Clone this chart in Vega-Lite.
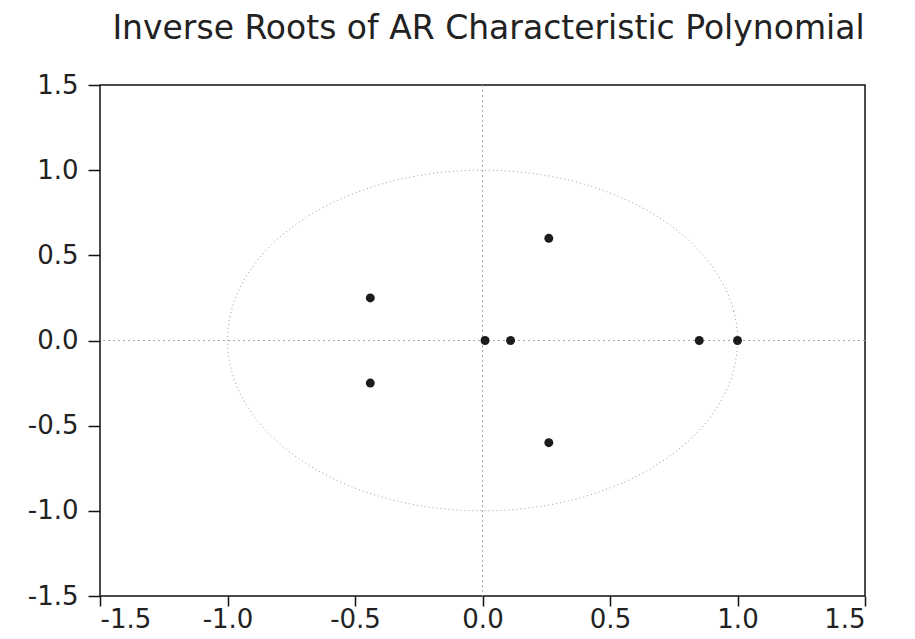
{
  "$schema": "https://vega.github.io/schema/vega-lite/v6.json",
  "autosize": "none",
  "width": 765,
  "height": 511,
  "padding": {"left": 100, "top": 85, "right": 50, "bottom": 43},
  "background": "white",
  "title": {
    "text": "Inverse Roots of AR Characteristic Polynomial",
    "anchor": "middle",
    "frame": "group",
    "font": "DejaVu Sans",
    "fontSize": 33,
    "fontWeight": "normal",
    "color": "#222222",
    "offset": 26,
    "dx": 6
  },
  "config": {
    "view": {"stroke": "#111111", "strokeWidth": 1.5},
    "axis": {
      "grid": false,
      "domain": false,
      "ticks": true,
      "tickColor": "#111111",
      "tickWidth": 1.5,
      "labelFont": "DejaVu Sans",
      "labelFontSize": 26,
      "labelColor": "#222222",
      "title": null
    }
  },
  "datasets": {
    "roots": [
      {"re": -0.44, "im": 0.25},
      {"re": -0.44, "im": -0.25},
      {"re": 0.01, "im": 0.0},
      {"re": 0.11, "im": 0.0},
      {"re": 0.26, "im": 0.60},
      {"re": 0.26, "im": -0.60},
      {"re": 0.85, "im": 0.0},
      {"re": 1.0, "im": 0.0}
    ],
    "circle": [
      {"deg": 0, "cx": 1.0, "cy": 0.0},
      {"deg": 10, "cx": 0.985, "cy": 0.174},
      {"deg": 20, "cx": 0.940, "cy": 0.342},
      {"deg": 30, "cx": 0.866, "cy": 0.5},
      {"deg": 40, "cx": 0.766, "cy": 0.643},
      {"deg": 50, "cx": 0.643, "cy": 0.766},
      {"deg": 60, "cx": 0.5, "cy": 0.866},
      {"deg": 70, "cx": 0.342, "cy": 0.940},
      {"deg": 80, "cx": 0.174, "cy": 0.985},
      {"deg": 90, "cx": 0.0, "cy": 1.0},
      {"deg": 100, "cx": -0.174, "cy": 0.985},
      {"deg": 110, "cx": -0.342, "cy": 0.940},
      {"deg": 120, "cx": -0.5, "cy": 0.866},
      {"deg": 130, "cx": -0.643, "cy": 0.766},
      {"deg": 140, "cx": -0.766, "cy": 0.643},
      {"deg": 150, "cx": -0.866, "cy": 0.5},
      {"deg": 160, "cx": -0.940, "cy": 0.342},
      {"deg": 170, "cx": -0.985, "cy": 0.174},
      {"deg": 180, "cx": -1.0, "cy": 0.0},
      {"deg": 190, "cx": -0.985, "cy": -0.174},
      {"deg": 200, "cx": -0.940, "cy": -0.342},
      {"deg": 210, "cx": -0.866, "cy": -0.5},
      {"deg": 220, "cx": -0.766, "cy": -0.643},
      {"deg": 230, "cx": -0.643, "cy": -0.766},
      {"deg": 240, "cx": -0.5, "cy": -0.866},
      {"deg": 250, "cx": -0.342, "cy": -0.940},
      {"deg": 260, "cx": -0.174, "cy": -0.985},
      {"deg": 270, "cx": 0.0, "cy": -1.0},
      {"deg": 280, "cx": 0.174, "cy": -0.985},
      {"deg": 290, "cx": 0.342, "cy": -0.940},
      {"deg": 300, "cx": 0.5, "cy": -0.866},
      {"deg": 310, "cx": 0.643, "cy": -0.766},
      {"deg": 320, "cx": 0.766, "cy": -0.643},
      {"deg": 330, "cx": 0.866, "cy": -0.5},
      {"deg": 340, "cx": 0.940, "cy": -0.342},
      {"deg": 350, "cx": 0.985, "cy": -0.174}
    ]
  },
  "layer": [
    {
      "data": {"name": "circle"},
      "mark": {"type": "line", "interpolate": "cardinal-closed", "stroke": "#9a9a9a", "strokeWidth": 1, "strokeDash": [1, 3]},
      "encoding": {
        "x": {"field": "cx", "type": "quantitative", "scale": {"domain": [-1.5, 1.5], "nice": false, "zero": false},
          "axis": {"values": [-1.5, -1.0, -0.5, 0.0, 0.5, 1.0, 1.5], "tickSize": 10, "labelPadding": 0,
            "labelExpr": "replace(format(datum.value, '.1f'), '\u2212', '-')"}},
        "y": {"field": "cy", "type": "quantitative", "scale": {"domain": [-1.5, 1.5], "nice": false, "zero": false},
          "axis": {"values": [-1.5, -1.0, -0.5, 0.0, 0.5, 1.0, 1.5], "tickSize": 12, "labelPadding": 10,
            "labelExpr": "replace(format(datum.value, '.1f'), '\u2212', '-')"}},
        "order": {"field": "deg", "type": "quantitative"}
      }
    },
    {
      "data": {"values": [{"z": 0}]},
      "mark": {"type": "rule", "stroke": "#aaaaaa", "strokeWidth": 1, "strokeDash": [2, 3]},
      "encoding": {"x": {"field": "z", "type": "quantitative"}}
    },
    {
      "data": {"values": [{"z": 0}]},
      "mark": {"type": "rule", "stroke": "#aaaaaa", "strokeWidth": 1, "strokeDash": [2, 3]},
      "encoding": {"y": {"field": "z", "type": "quantitative"}}
    },
    {
      "data": {"name": "roots"},
      "mark": {"type": "point", "filled": true, "shape": "circle", "size": 80, "color": "#1c1c1c", "opacity": 1},
      "encoding": {
        "x": {"field": "re", "type": "quantitative"},
        "y": {"field": "im", "type": "quantitative"}
      }
    }
  ]
}
